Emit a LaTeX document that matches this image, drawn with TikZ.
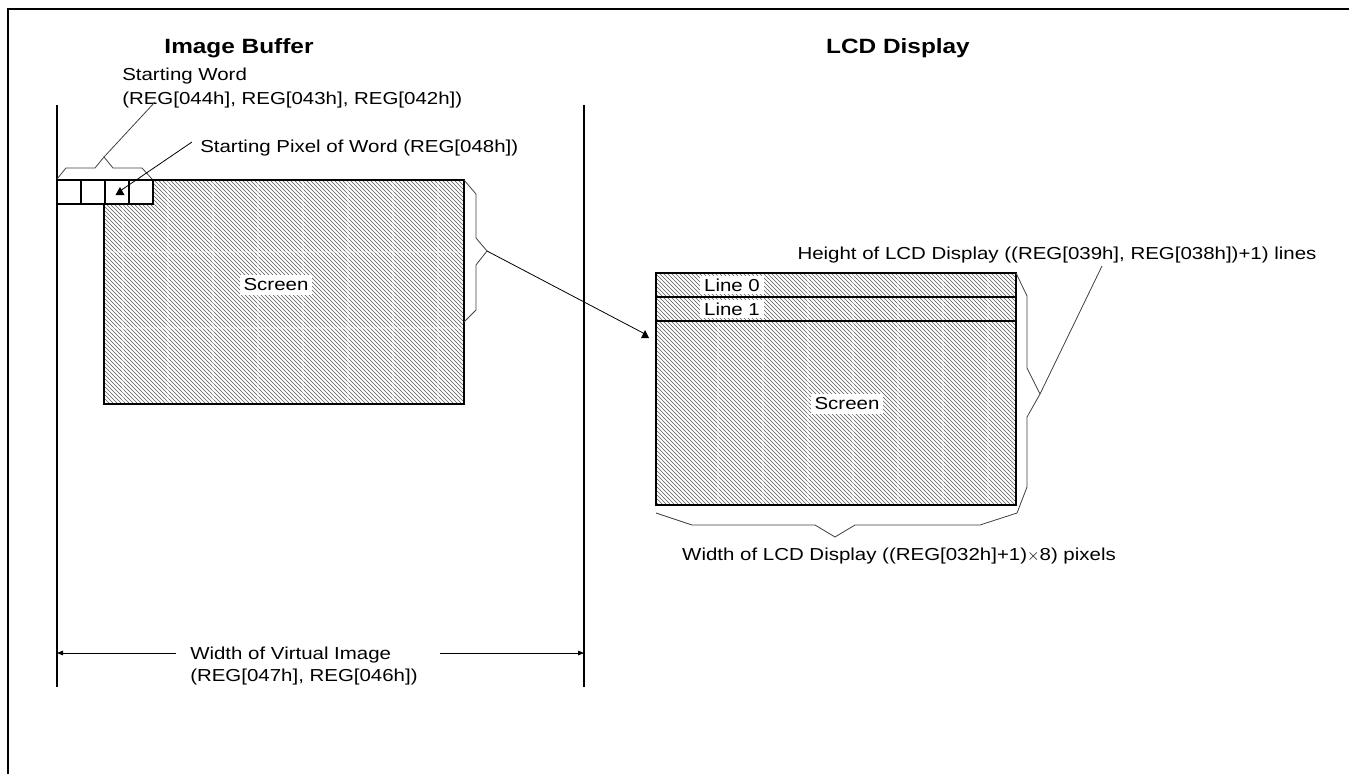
\documentclass[tikz,border=0pt]{standalone}
\usepackage{fontspec}
\setmainfont{Liberation Sans}[FakeStretch=1.18]
\usetikzlibrary{patterns,arrows.meta}
\begin{document}
\begin{tikzpicture}[x=0.75pt,y=-0.75pt,
  txt/.style={font=\fontsize{13}{17}\selectfont, inner sep=0pt},
  ttl/.style={font=\fontsize{15.5}{18}\selectfont\bfseries, inner sep=0pt},
  scr/.style={draw=black, line width=0.9pt, pattern=north west lines, pattern color=black!65},
  brc/.style={draw=black!75, line width=0.6pt},
  thinln/.style={draw=black, line width=0.6pt},
  bar/.style={draw=black, line width=0.9pt},
  gridln/.style={draw=white, line width=0.8pt, opacity=0.35},
  lbl/.style={txt, fill=white, inner xsep=3pt, minimum height=15pt},
  tip/.style={-{Triangle[length=4.5pt,width=3.5pt]}}
]
\useasboundingbox (0,0) rectangle (1349,774);
% frame
\draw[bar] (8,774) -- (8,9) -- (1349,9);
% titles
\node[ttl] (t1) at (239,48) {Image Buffer};
\node[ttl] (t2) at (898,48) {LCD Display};
% image buffer bounds
\coordinate (v1t) at (57,105); \coordinate (v1b) at (57,687);
\coordinate (v2t) at (584,105); \coordinate (v2b) at (584,687);
\draw[bar] (v1t) -- (v1b);
\draw[bar] (v2t) -- (v2b);
% image buffer screen
\coordinate (s1a) at (104,180); \coordinate (s1b) at (464,404);
\path[scr] (s1a) rectangle (s1b);
\foreach \x in {123,168,...,438} \draw[gridln] (\x,181) -- (\x,403);
\foreach \y in {252,328} \draw[gridln] (105,\y) -- (463,\y);
\draw[draw=black, line width=0.9pt] (s1a) rectangle (s1b);
\node[lbl] (scr1) at (276,285) {Screen};
% word cells
\foreach \i in {0,1,2,3} \draw[thinln, fill=white, line width=0.8pt] ({57+24*\i},180) rectangle ({81+24*\i},204);
% brace over cells
\coordinate (bw) at (104,157);
\draw[brc] (57,179) -- (66,168) -- (95,168) -- (bw) -- (113,168) -- (142,168) -- (152,179);
\node[txt, anchor=base west] (sw1) at (122,81) {Starting Word};
\node[txt, anchor=base west] (sw2) at (122,104) {(REG[044h], REG[043h], REG[042h])};
\coordinate (swend) at (155,102);
\draw[brc] (bw) -- (swend);
% starting pixel
\node[txt, anchor=base west] (sp) at (200,152) {Starting Pixel of Word (REG[048h])};
\coordinate (spstart) at (192,142);
\coordinate (sparr) at (120,191);
\draw[thinln] (spstart) -- (sparr);
\fill (sparr) ++(-4.5,4) -- ++(9,0) -- ++(-4.5,-8) -- cycle;
% brace right of screen
\coordinate (btip) at (487,251);
\draw[brc] (464,180) -- (476,194) -- (476,238) -- (btip) -- (476,265) -- (476,310) -- (464,322);
% arrow to LCD
\coordinate (lcdarr) at (645,334);
\draw[thinln] (btip) -- (lcdarr);
\fill (lcdarr) ++(-4,4) -- ++(8,0) -- ++(-4,-8) -- cycle;
% LCD screen
\coordinate (s2a) at (656,273); \coordinate (s2b) at (1016,505);
\path[scr] (s2a) rectangle (s2b);
\foreach \x in {718,763,...,988} \draw[gridln] (\x,274) -- (\x,504);
\draw[draw=black, line width=0.9pt] (s2a) rectangle (s2b);
\draw[draw=black, line width=0.9pt] (656,297) -- (1016,297);
\draw[draw=black, line width=0.9pt] (656,321) -- (1016,321);
\node[lbl, minimum height=14pt] (l0) at (732,285) {Line 0};
\node[lbl, minimum height=14pt] (l1) at (732,309) {Line 1};
\node[lbl] (scr2) at (847,404) {Screen};
% LCD right brace
\coordinate (htip) at (1040,394);
\coordinate (bcorner) at (1017,513);
\draw[brc] (1016,273) -- (1027,296) -- (1027,368) -- (htip) -- (1027,417) -- (1027,487) -- (bcorner);
\node[txt] (ht) at (1057,255) {Height of LCD Display ((REG[039h], REG[038h])+1) lines};
\coordinate (hend) at (1102,266);
\draw[brc] (htip) -- (hend);
% LCD bottom brace
\coordinate (wtip) at (835,537);
\draw[brc] (656,513) -- (692,525) -- (815,525) -- (wtip) -- (855,525) -- (980,525) -- (bcorner);
\node[txt] (wt) at (899,556) {Width of LCD Display ((REG[032h]+1)$\times$8) pixels};
% virtual width
\node[txt, anchor=base west] (vw1) at (190,659) {Width of Virtual Image};
\node[txt, anchor=base west] (vw2) at (190,681) {(REG[047h], REG[046h])};
\coordinate (al) at (176,653); \coordinate (ar) at (440,653);
\draw[thinln, tip] (al) -- (v1t |- al);
\draw[thinln, tip] (ar) -- (v2t |- ar);
\end{tikzpicture}
\end{document}
